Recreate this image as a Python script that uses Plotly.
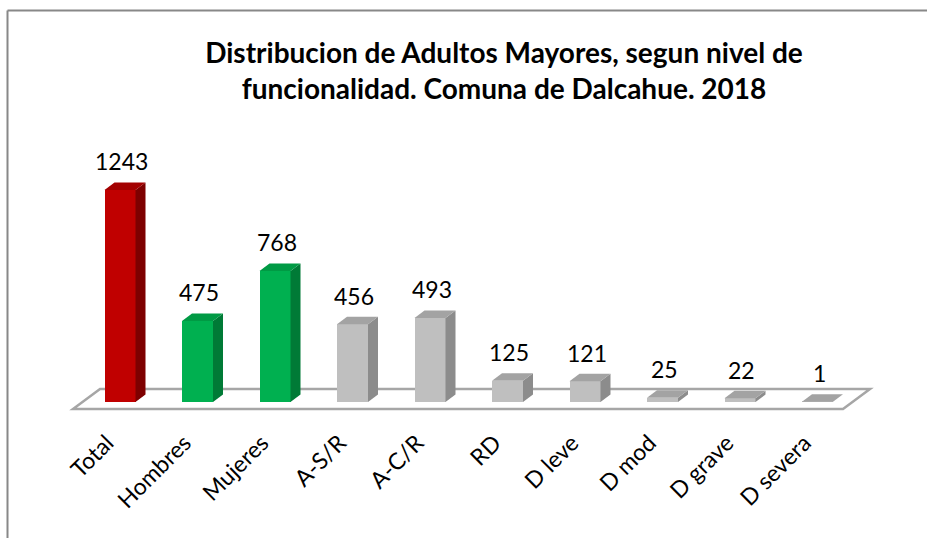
import plotly.graph_objects as go

# ---- data ----
categories = ["Total", "Hombres", "Mujeres", "A-S/R", "A-C/R", "RD",
              "D leve", "D mod", "D grave", "D severa"]
values = [1243, 475, 768, 456, 493, 125, 121, 25, 22, 1]
groups = ["total", "sexo", "sexo", "func", "func", "func",
          "func", "func", "func", "func"]

# ---- style ----
palette = {
    "total": ("#C00000", "#7E0000", "#A30000"),
    "sexo": ("#00B050", "#007A36", "#009A44"),
    "func": ("#BFBFBF", "#8C8C8C", "#A3A3A3"),
}
W, H = 927, 538
ML, MR, MT, MB = 60, 27, 140, 118
PX_PER_CAT = 77.5
PX_PER_UNIT = 0.1706
X0_PX = 120  # pixel centre of first category
BASE_PX = 402
plot_w = W - ML - MR
plot_h = H - MT - MB
xr = [(ML - X0_PX) / PX_PER_CAT, (ML - X0_PX) / PX_PER_CAT + plot_w / PX_PER_CAT]
yr = [(BASE_PX - (H - MB)) / PX_PER_UNIT, (BASE_PX - MT) / PX_PER_UNIT]

half = 0.2                 # half bar width (category units)
ddx = 10 / PX_PER_CAT      # depth offset x
ddy = 7.5 / PX_PER_UNIT    # depth offset y

font = "Lato, 'Open Sans', sans-serif"
n = len(categories)
xs = list(range(n))

fig = go.Figure()

# floor (depth plane) drawn beneath all traces
fdx, fdy_front, fdy_back = 27 / PX_PER_CAT, -7 / PX_PER_UNIT, 13 / PX_PER_UNIT
fl = -0.606
fr = (n - 1) + 0.329
floor_pts = [(fl, fdy_front), (fr, fdy_front), (fr + fdx, fdy_back), (fl + fdx, fdy_back)]
path = "M " + " L ".join(f"{a},{b}" for a, b in floor_pts) + " Z"
fig.add_shape(type="path", path=path, xref="x", yref="y", layer="below",
              fillcolor="white", line=dict(color="#A6A6A6", width=2.5))

# side and top faces
for x, v, g in zip(xs, values, groups):
    front, side, top = palette[g]
    x1 = x + half
    x0 = x - half
    fig.add_trace(go.Scatter(x=[x1, x1 + ddx, x1 + ddx, x1, x1],
                             y=[0, ddy, v + ddy, v, 0],
                             mode="lines", fill="toself", fillcolor=side,
                             line=dict(width=0, color=side),
                             hoverinfo="skip", showlegend=False))
    fig.add_trace(go.Scatter(x=[x0, x1, x1 + ddx, x0 + ddx, x0],
                             y=[v, v, v + ddy, v + ddy, v],
                             mode="lines", fill="toself", fillcolor=top,
                             line=dict(width=0, color=top),
                             hoverinfo="skip", showlegend=False))

# front faces
fig.add_trace(go.Bar(x=xs, y=values, width=2 * half,
                     marker=dict(color=[palette[g][0] for g in groups], line=dict(width=0)),
                     showlegend=False, hoverinfo="x+y"))

# value labels
for x, v in zip(xs, values):
    fig.add_annotation(x=x + 0.02, y=v + ddy, text=str(v), showarrow=False,
                       yanchor="bottom", yshift=5,
                       font=dict(family=font, size=23, color="#000000"))

# outer border (top and left edges)
def px_x(p):
    return (p - ML) / plot_w

def px_y(p):
    return (H - MB - p) / plot_h

fig.add_shape(type="line", xref="paper", yref="paper",
              x0=px_x(7.5), x1=px_x(W + 5), y0=px_y(10.5), y1=px_y(10.5),
              line=dict(color="#888888", width=2))
fig.add_shape(type="line", xref="paper", yref="paper",
              x0=px_x(7.5), x1=px_x(7.5), y0=px_y(10.5), y1=px_y(H + 5),
              line=dict(color="#888888", width=2))

fig.update_layout(
    width=W, height=H,
    margin=dict(l=ML, r=MR, t=MT, b=MB, pad=0),
    paper_bgcolor="white", plot_bgcolor="white",
    title=dict(text="<b>Distribucion de Adultos Mayores, segun nivel de<br>funcionalidad. Comuna de Dalcahue. 2018</b>",
               x=504 / W, xanchor="center", y=1 - 63 / H, yanchor="top",
               font=dict(family=font, size=28, color="#000000")),
    xaxis=dict(range=xr, tickmode="array", tickvals=xs, ticktext=categories,
               tickangle=-45, showgrid=False, zeroline=False, showline=False,
               ticks="", ticklabelshift=-13, ticklabelstandoff=4,
               tickfont=dict(family=font, size=23, color="#000000")),
    yaxis=dict(range=yr, visible=False, showgrid=False, zeroline=False),
    bargap=0,
)

fig.write_html("out.html", config={"displayModeBar": False},
               post_script="document.body.style.margin='0';document.body.style.padding='0';")
